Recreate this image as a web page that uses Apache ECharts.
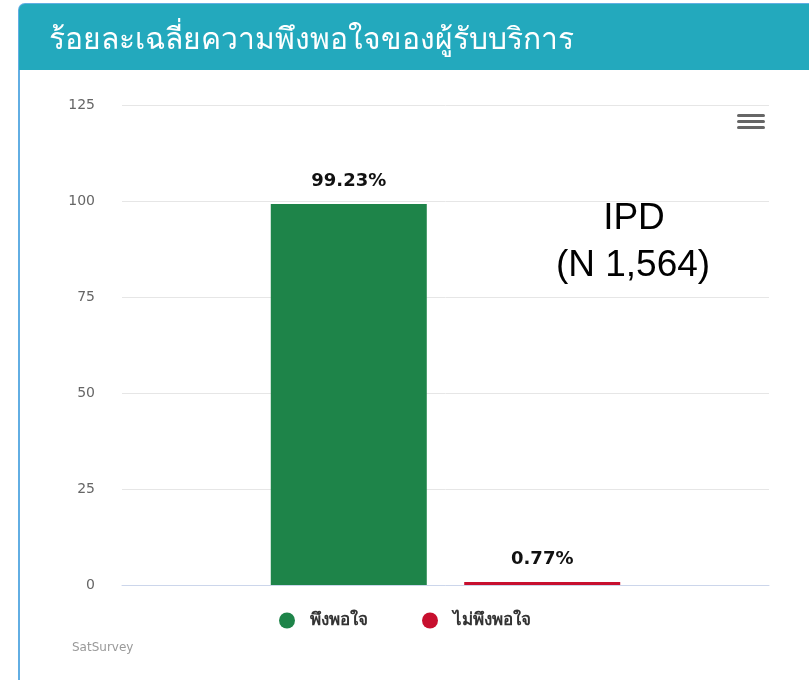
<!DOCTYPE html>
<html lang="th">
<head>
  <meta charset="UTF-8">
  <title>SatSurvey</title>
  <script src="https://cdn.jsdelivr.net/npm/echarts@6/dist/echarts.min.js"></script>
  <style>
    html, body { margin: 0; padding: 0; background: #fff; }
    #main { width: 809px; height: 680px; }
  </style>
</head>
<body>
<div id="main"></div>
<script type="text/javascript">
  // ข้อมูล
  var categories = ['ความพึงพอใจ'];
  var seriesNames = ['พึงพอใจ', 'ไม่พึงพอใจ'];
  var satisfied = [99.23];
  var unsatisfied = [0.77];
  var yTicks = [0, 25, 50, 75, 100, 125];

  var colors = ['#1e8449', '#c70f2e'];

  var myChart = echarts.init(document.getElementById('main'));

  var labelStyle = {
    show: true,
    position: 'top',
    distance: 14,
    formatter: function (p) { return p.value.toFixed(2) + '%'; },
    color: '#111',
    fontWeight: 'bold',
    fontSize: 18,
    fontFamily: '"DejaVu Sans", sans-serif',
    textBorderColor: '#fff',
    textBorderWidth: 2
  };

  var option = {
    animation: false,
    color: colors,
    title: {
      text: 'ร้อยละเฉลี่ยความพึงพอใจของผู้รับบริการ',
      left: 44,
      top: 20,
      textStyle: { color: '#fff', fontSize: 30, fontWeight: 'normal', fontFamily: 'Noto Sans, sans-serif' }
    },
    graphic: [
      { type: 'rect', z: -10, shape: { x: 19, y: 4, width: 820, height: 700, r: 6 },
        style: { fill: '#fff', stroke: '#62aee3', lineWidth: 2 } },
      { type: 'rect', z: -9, shape: { x: 19, y: 4, width: 820, height: 66, r: [6, 0, 0, 0] },
        style: { fill: '#23a9bd' } },
      // เมนู
      { type: 'rect', shape: { x: 737, y: 114, width: 28, height: 3, r: 1.5 }, style: { fill: '#666' } },
      { type: 'rect', shape: { x: 737, y: 120, width: 28, height: 3, r: 1.5 }, style: { fill: '#666' } },
      { type: 'rect', shape: { x: 737, y: 126, width: 28, height: 3, r: 1.5 }, style: { fill: '#666' } },
      { type: 'text', x: 634, y: 219,
        style: { text: 'IPD', fill: '#000', font: '37px "Liberation Sans", sans-serif', textAlign: 'center', textVerticalAlign: 'middle' } },
      { type: 'text', x: 633, y: 266,
        style: { text: '(N 1,564)', fill: '#000', font: '37px "Liberation Sans", sans-serif', textAlign: 'center', textVerticalAlign: 'middle' } },
      { type: 'text', x: 72, y: 648,
        style: { text: 'SatSurvey', fill: '#999', font: '12px "DejaVu Sans", sans-serif', textVerticalAlign: 'middle' } }
    ],
    legend: {
      data: seriesNames,
      left: 279,
      top: 612,
      padding: 0,
      icon: 'circle',
      itemWidth: 16,
      itemHeight: 16,
      itemGap: 54,
      textStyle: { color: '#333', fontSize: 17, fontWeight: 'bold', padding: [0, 0, 0, 10] }
    },
    grid: { left: 122, right: 40, top: 105, bottom: 95, containLabel: false },
    xAxis: {
      type: 'category',
      data: categories,
      axisLine: { lineStyle: { color: '#ccd6eb', width: 1 } },
      axisTick: { show: false },
      axisLabel: { show: false }
    },
    yAxis: {
      type: 'value',
      min: yTicks[0],
      max: yTicks[yTicks.length - 1],
      interval: 25,
      axisLine: { show: false },
      axisTick: { show: false },
      axisLabel: { color: '#666', fontSize: 14, margin: 27, fontFamily: '"DejaVu Sans", sans-serif' },
      splitLine: { lineStyle: { color: '#e6e6e6', width: 1 } }
    },
    series: [
      { name: seriesNames[0], type: 'bar', data: satisfied, barWidth: 156, barGap: '24%', label: labelStyle },
      { name: seriesNames[1], type: 'bar', data: unsatisfied, barWidth: 156, barGap: '24%', label: labelStyle }
    ]
  };

  myChart.setOption(option);
</script>
</body>
</html>
